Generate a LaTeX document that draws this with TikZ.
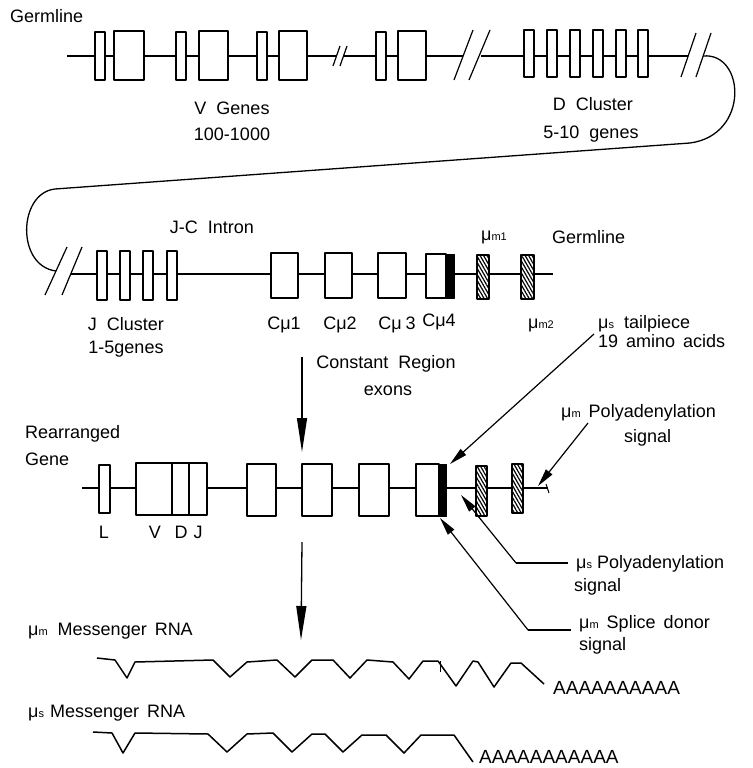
\documentclass[tikz,border=0pt]{standalone}
\usepackage{fontspec}
\setmainfont{Liberation Sans}[WordSpace=2]
\usetikzlibrary{arrows.meta,patterns.meta}
\newcommand{\sbs}[1]{\raisebox{-0.5pt}{\fontsize{11}{11}\selectfont #1}}
\begin{document}
\begin{tikzpicture}[x=1pt,y=-1pt,line join=round,
  box/.style={draw,line width=1.3pt,fill=white},
  hatchbox/.style={draw,line width=1.4pt,preaction={fill=white},pattern={Lines[angle=-60,distance=3pt,line width=1.2pt]}},
  bar/.style={fill=black},
  dna/.style={line width=1.3pt},
  brk/.style={line width=1.2pt},
  lbl/.style={inner sep=0pt,font=\fontsize{18}{20}\selectfont},
  varrow/.style={line width=1.3pt,-{Triangle[length=34pt,width=10pt]}},
  darrow/.style={line width=1.2pt,-{Triangle[length=18pt,width=8pt]}},
  lead/.style={line width=1.2pt},
  mrna/.style={line width=1.5pt},
]
\useasboundingbox (0,0) rectangle (752,768);

% ---------- top germline row ----------
\draw[dna] (67,56) -- (336,56);
\draw[dna] (344,56) -- (463,56);
\draw[dna] (481,56) -- (688,56);
\draw[brk] (333,66) -- (340,46);
\draw[brk] (340,66) -- (347,46);
\draw[brk] (454,80) -- (473,30);
\draw[brk] (469,80) -- (490,30);
\draw[brk] (681,77) -- (696,33);
\draw[brk] (696,77) -- (711,33);
\foreach \a/\b/\c/\d in {95/105/114/144, 176/186/199/228, 257/267/279/307, 376/386/398/426}{
  \draw[box] (\a,32) rectangle (\b,80);
  \draw[box] (\c,31) rectangle (\d,80);
}
\foreach \a in {524,547,570,593,616,638}{
  \draw[box] (\a,30) rectangle ({\a+10},77);
}
\draw[dna] (703,56) .. controls (745,52) and (750,135) .. (690,143) -- (55,189)
  .. controls (18,193) and (16,266) .. (56,271);

\node[lbl,anchor=base west] (germ1) at (10,23) {Germline};
\node[lbl,anchor=base] (vg) at (232,114) {V Genes};
\node[lbl,anchor=base] (vn) at (232,140) {100-1000};
\node[lbl,anchor=base] (dc) at (593,110) {D Cluster};
\node[lbl,anchor=base] (dn) at (591,138) {5-10 genes};

% ---------- second germline row ----------
\draw[brk] (45,295) -- (67,247);
\draw[brk] (62,295) -- (82,247);
\draw[dna] (71,274) -- (553,274);
\foreach \a in {97,120,143,167}{
  \draw[box] (\a,251) rectangle ({\a+10},300);
}
\draw[box] (271,253) rectangle (298,298);
\draw[box] (325,253) rectangle (352,298);
\draw[box] (378,253) rectangle (406,298);
\draw[box] (426,254) rectangle (446,298);
\draw[bar] (446,254) rectangle (454,298);
\draw[hatchbox] (477,255) rectangle (489,299);
\draw[hatchbox] (521,255) rectangle (534,299);

\node[lbl,anchor=base] (jc) at (212,233) {J-C Intron};
\node[lbl,anchor=base] (jcl) at (126,330) {J Cluster};
\node[lbl,anchor=base] (jn) at (126,353) {1-5genes};
\node[lbl,anchor=base] (c1) at (284,329) {Cμ1};
\node[lbl,anchor=base] (c2) at (340,329) {Cμ2};
\node[lbl,anchor=base] (c3) at (397,329) {Cμ\hspace{4pt}3};
\node[lbl,anchor=base] (c4) at (439,326) {Cμ4};
\node[lbl,anchor=base] (m1) at (494,240) {μ\sbs{m1}};
\node[lbl,anchor=base west] (germ2) at (552,243) {Germline};
\node[lbl,anchor=base] (m2) at (541,328) {μ\sbs{m2}};
\node[lbl,anchor=base west] (tail) at (598,328) {μ\sbs{s} tailpiece};
\node[lbl,anchor=base west] (aa) at (598,347) {19\hspace{8pt}amino\hspace{8pt}acids};

% arrow 1
\coordinate (a1s) at (302,357);
\coordinate (a1e) at (302,452);
\draw[varrow] (a1s) -- (a1e);
\node[lbl,anchor=base] (cre) at (386,368) {Constant Region};
\node[lbl,anchor=base] (ex) at (388,395) {exons};

% ---------- rearranged gene ----------
\node[lbl,anchor=base west] (rg1) at (25,438) {Rearranged};
\node[lbl,anchor=base west] (rg2) at (25,465) {Gene};
\draw[dna] (82,488) -- (548,488);
\draw[line width=1pt] (546,484) -- (549,493);
\draw[box] (99,465) rectangle (110,513);
\draw[box] (136,463) rectangle (207,515);
\draw[line width=1.1pt] (172,463) -- (172,515);
\draw[line width=1.1pt] (189,463) -- (189,515);
\draw[box] (247,464) rectangle (276,516);
\draw[box] (302,464) rectangle (332,516);
\draw[box] (359,464) rectangle (389,516);
\draw[box] (416,464) rectangle (439,516);
\draw[bar] (439,464) rectangle (446,516);
\draw[hatchbox] (476,466) rectangle (487,516);
\draw[hatchbox] (512,464) rectangle (523,513);

\node[lbl,anchor=base] (lL) at (104,538) {L};
\node[lbl,anchor=base] (lV) at (155,538) {V};
\node[lbl,anchor=base] (lD) at (181,538) {D};
\node[lbl,anchor=base] (lJ) at (198,538) {J};

% annotations
\coordinate (t1) at (594,334);
\coordinate (t2) at (450,464);
\draw[darrow] (t1) -- (t2);

\node[lbl,anchor=base west] (mp) at (561,417) {μ\sbs{m}\hspace{8pt}Polyadenylation};
\node[lbl,anchor=base west] (mps) at (624,442) {signal};
\coordinate (p1) at (588,423);
\coordinate (p2) at (538,486);
\draw[darrow] (p1) -- (p2);

\node[lbl,anchor=base west] (sp) at (576,568) {μ\sbs{s}\hspace{5pt}Polyadenylation};
\node[lbl,anchor=base west] (sps) at (574,591) {signal};
\coordinate (q0) at (568,563);
\coordinate (q1) at (516,563);
\coordinate (q2) at (461,495);
\draw[lead] (q0) -- (q1);
\draw[darrow] (q1) -- (q2);

\node[lbl,anchor=base west] (sd) at (579,628) {μ\sbs{m}\hspace{8pt}Splice\hspace{8pt}donor};
\node[lbl,anchor=base west] (sds) at (579,650) {signal};
\coordinate (s0) at (571,630);
\coordinate (s1) at (528,630);
\coordinate (s2) at (440,518);
\draw[lead] (s0) -- (s1);
\draw[darrow] (s1) -- (s2);

% arrow 2
\coordinate (a2s) at (302,542);
\coordinate (a2e) at (301,640);
\draw[varrow] (a2s) -- (a2e);

% ---------- mRNAs ----------
\node[lbl,anchor=base west] (mm) at (28,635) {μ\sbs{m}\hspace{10pt}Messenger\hspace{8pt}RNA};
\draw[mrna] (97,658) -- (115,660) -- (127,678) -- (135,662) -- (213,660) -- (230,677)
  -- (247,662) -- (277,660) -- (295,677) -- (312,660) -- (333,660) -- (350,678)
  -- (367,660) -- (393,662) -- (409,679) -- (423,661) -- (438,661) -- (456,686)
  -- (473,661) -- (478,662) -- (494,687) -- (511,663) -- (521,663) -- (544,684);
\draw[line width=1pt] (440,661) -- (440,672);
\node[lbl,anchor=base west,font=\fontsize{19}{20}\selectfont] (pa1) at (553,694) {AAAAAAAAAA};

\node[lbl,anchor=base west] (ms) at (28,717) {μ\sbs{s}\hspace{6pt}Messenger\hspace{8pt}RNA};
\draw[mrna] (93,732) -- (112,733) -- (123,753) -- (135,733) -- (208,734) -- (227,752)
  -- (247,734) -- (273,733) -- (292,752) -- (312,734) -- (325,734) -- (343,752)
  -- (362,735) -- (386,735) -- (404,753) -- (421,735) -- (454,735) -- (473,762);
\node[lbl,anchor=base west,font=\fontsize{19}{20}\selectfont] (pa2) at (479,763) {AAAAAAAAAAA};
\end{tikzpicture}
\end{document}
